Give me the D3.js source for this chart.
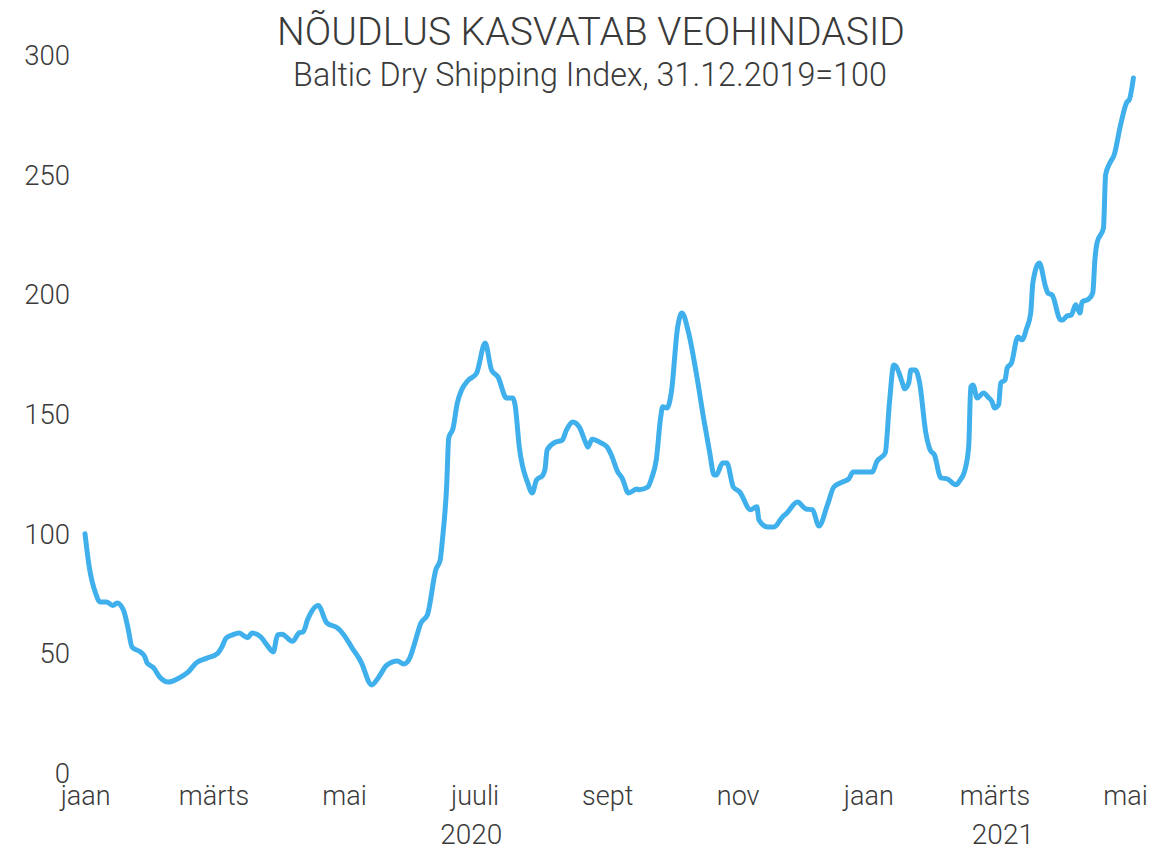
<!DOCTYPE html>
<html><head><meta charset="utf-8">
<script src="https://cdn.jsdelivr.net/npm/d3@7/dist/d3.min.js"></script>
<style>body{margin:0;background:#fff;} svg{display:block;}</style>
</head><body>
<svg id="c" width="1153" height="849"></svg>
<script>
const title = "NÕUDLUS KASVATAB VEOHINDASID";
const subtitle = "Baltic Dry Shipping Index, 31.12.2019=100";

const dates = [
"2019-12-31","2020-01-02","2020-01-05","2020-01-07","2020-01-10","2020-01-13","2020-01-15","2020-01-18","2020-01-20","2020-01-22",
"2020-01-26","2020-01-28","2020-01-29","2020-02-01","2020-02-04","2020-02-08","2020-02-13","2020-02-17","2020-02-21","2020-02-26",
"2020-03-02","2020-03-04","2020-03-06","2020-03-09","2020-03-12","2020-03-16","2020-03-18","2020-03-22","2020-03-25","2020-03-28",
"2020-03-30","2020-04-01","2020-04-06","2020-04-09","2020-04-11","2020-04-13","2020-04-18","2020-04-22","2020-04-27","2020-04-30",
"2020-05-04","2020-05-07","2020-05-08","2020-05-13","2020-05-16","2020-05-20","2020-05-25","2020-05-28","2020-05-31","2020-06-02",
"2020-06-05","2020-06-08","2020-06-12","2020-06-14","2020-06-15","2020-06-17","2020-06-18","2020-06-20","2020-06-22","2020-06-24",
"2020-06-27","2020-07-01","2020-07-05","2020-07-08","2020-07-11","2020-07-15","2020-07-18","2020-07-19","2020-07-21","2020-07-25",
"2020-07-27","2020-07-29","2020-08-01","2020-08-02","2020-08-03","2020-08-07","2020-08-10","2020-08-12","2020-08-15","2020-08-18",
"2020-08-21","2020-08-22","2020-08-24","2020-08-28","2020-08-31","2020-09-02","2020-09-05","2020-09-07","2020-09-10","2020-09-14",
"2020-09-15","2020-09-19","2020-09-21","2020-09-23","2020-09-25","2020-09-26","2020-09-28","2020-09-30","2020-10-03","2020-10-05",
"2020-10-08","2020-10-12","2020-10-15","2020-10-18","2020-10-20","2020-10-21","2020-10-24","2020-10-26","2020-10-29","2020-11-01",
"2020-11-06","2020-11-09","2020-11-10","2020-11-14","2020-11-17","2020-11-21","2020-11-23","2020-11-28","2020-12-02","2020-12-05",
"2020-12-08","2020-12-12","2020-12-15","2020-12-19","2020-12-22","2020-12-24","2021-01-02","2021-01-04","2021-01-08","2021-01-10",
"2021-01-12","2021-01-13","2021-01-16","2021-01-17","2021-01-19","2021-01-20","2021-01-22","2021-01-24","2021-01-27","2021-01-29",
"2021-01-31","2021-02-03","2021-02-06","2021-02-10","2021-02-12","2021-02-14","2021-02-16","2021-02-17","2021-02-18","2021-02-20",
"2021-02-23","2021-02-25","2021-02-27","2021-02-28","2021-03-02","2021-03-03","2021-03-05","2021-03-06","2021-03-08","2021-03-11",
"2021-03-13","2021-03-15","2021-03-17","2021-03-18","2021-03-21","2021-03-24","2021-03-25","2021-03-27","2021-03-31","2021-04-01",
"2021-04-03","2021-04-05","2021-04-07","2021-04-09","2021-04-10","2021-04-13","2021-04-15","2021-04-16","2021-04-17","2021-04-20",
"2021-04-21","2021-04-23","2021-04-25","2021-04-28","2021-05-01","2021-05-02","2021-05-04"
];
const values = [
100,86,75,71.5,71.5,70,71,68,61,52.6,
50.5,48.5,46,44,40,38,39.7,42,46,48,
50,52.7,56.4,57.7,58.5,56.5,58.5,57,53.5,50.6,
57.7,58,55,58.5,59,64,70,62.7,60.6,57.7,
52,48,46.4,36.8,39.7,45,46.8,45.5,48.5,54,
62.7,66,85,89,97,119.5,140,144,154.6,160,
164,167,179.7,168.4,165.5,156.7,156.7,153.8,136,121,
117,122.4,124.5,127,135,138.3,139,143.3,146.7,144.6,
138,136.2,139.5,138,136.2,132.9,125.8,123.3,117,118.7,
118.3,119.5,123.7,130.8,148.3,153,152.5,158.8,186.4,192.2,
184.3,165.5,148.8,133.7,124.5,124.5,129.5,129.5,119.5,117.4,
110,111.2,105.7,102.8,102.8,107,108.6,113.2,110.3,110,
103.2,112,119.5,121.6,122.9,125.8,125.8,130,133.7,155,
170.5,170,163,160.5,163,168.4,168.4,163.4,142,135,
132.9,123.3,122.9,120.4,122.4,125.8,136.2,161.3,162.1,156.7,
158.8,157.1,155,152.5,153.8,163,164.2,169.2,171.3,182.2,
181,185.5,192.2,204.8,213.1,203,200.6,199.7,189.3,189.3,
191,191.4,195.6,192.2,196.8,198,200.6,214.4,221.5,227.7,
249.9,254.9,258.2,270.8,280.4,281.2,290.4
];
const monthTicks = ["2020-01-01","2020-03-01","2020-05-01","2020-07-01","2020-09-01","2020-11-01","2021-01-01","2021-03-01","2021-05-01"];
const monthLabels = ["jaan","märts","mai","juuli","sept","nov","jaan","märts","mai"];
const years = ["2020","2021"];
const yTicks = [0,50,100,150,200,250,300];

const parse = d3.utcParse("%Y-%m-%d");
const data = dates.map((d,i)=>({date:parse(d), value:values[i]}));

const svg = d3.select("#c");
const textColor = "#3a3a3a";
const font = "Roboto, 'Open Sans', sans-serif";

const x = d3.scaleUtc()
  .domain([parse("2019-12-31"), parse("2021-05-01")])
  .range([85, 1127]);
const y = d3.scaleLinear().domain([0,300]).range([773,55]);

function fitText(sel, target){
  const w = sel.node().getComputedTextLength();
  const fs = parseFloat(sel.attr("font-size"));
  sel.attr("font-size", fs*target/w);
}
const t1 = svg.append("text").attr("x",591).attr("y",45).attr("text-anchor","middle")
  .attr("font-family",font).attr("font-weight",300).attr("font-size",36).attr("fill",textColor).text(title);
fitText(t1, 628);
const t2 = svg.append("text").attr("x",590).attr("y",86).attr("text-anchor","middle")
  .attr("font-family",font).attr("font-weight",300).attr("font-size",28).attr("fill",textColor).text(subtitle);
fitText(t2, 594);

// y axis (labels only)
const yAxis = d3.axisLeft(y).tickValues(yTicks).tickSize(0).tickPadding(0);
const gy = svg.append("g").attr("transform","translate(70,0)").call(yAxis);
gy.select(".domain").remove();
gy.selectAll("text").attr("font-family",font).attr("font-weight",300).attr("font-size",27.5)
  .attr("fill",textColor).attr("dy","0.35em");

// x axis month labels
const xAxis = d3.axisBottom(x).tickValues(monthTicks.map(parse))
  .tickFormat((d,i)=>monthLabels[i]).tickSize(0).tickPadding(0);
const gx = svg.append("g").attr("transform","translate(-2,786)").call(xAxis);
gx.select(".domain").remove();
gx.selectAll("text").attr("font-family",font).attr("font-weight",300).attr("font-size",27)
  .attr("fill",textColor).attr("dy","0.71em");

// year labels centred on each year's span of data
years.forEach(yr=>{
  const ext = d3.extent(data.filter(d=>d.date.getUTCFullYear()==+yr), d=>d.date);
  const mid = new Date((ext[0].getTime()+ext[1].getTime())/2);
  svg.append("text").attr("x",x(mid)).attr("y",844).attr("text-anchor","middle")
    .attr("font-family",font).attr("font-weight",300).attr("font-size",28).attr("fill",textColor).text(yr);
});

// line
const line = d3.line().x(d=>x(d.date)).y(d=>y(d.value)).curve(d3.curveMonotoneX);
svg.append("path").datum(data).attr("d",line).attr("fill","none")
  .attr("stroke","#3fb0ec").attr("stroke-width",5).attr("stroke-linejoin","round").attr("stroke-linecap","round");
</script>
</body></html>
